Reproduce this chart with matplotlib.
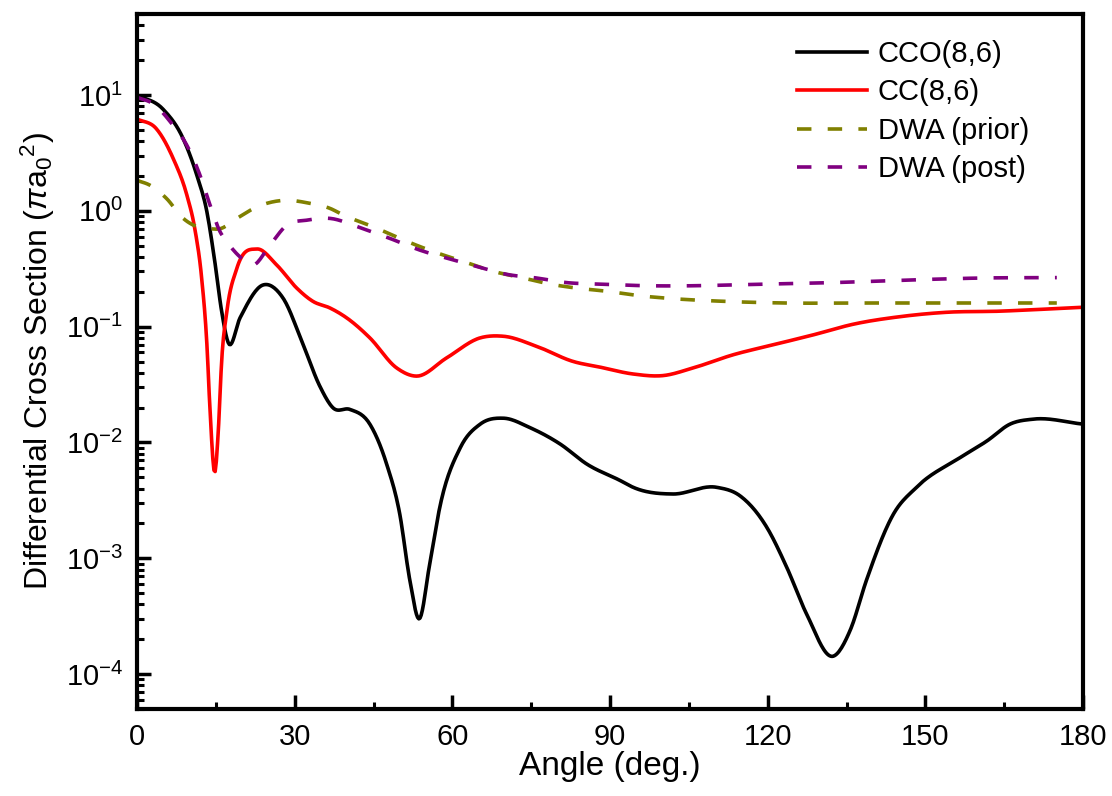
import matplotlib
matplotlib.use('Agg')
import matplotlib.pyplot as plt
import numpy as np
from matplotlib.ticker import MultipleLocator, NullFormatter, FixedLocator

plt.rcParams['font.family'] = 'Liberation Sans'
plt.rcParams['mathtext.fontset'] = 'custom'
plt.rcParams['mathtext.rm'] = 'Liberation Sans'
plt.rcParams['mathtext.it'] = 'Liberation Sans:italic'

# CCO(8,6)
cco_x = [0, 4.9, 8.8, 11.4, 13.3, 14.8, 16.1, 17.4, 19.6, 24.0, 27.8, 31.6, 34.8, 37.3,
         40.5, 44.3, 47.5, 50.0, 51.9, 53.7, 55.7, 57.6, 61.5, 65.3, 69.7, 74.8, 80.5,
         85.6, 91.9, 94.4, 102.0, 110.3, 114.7, 119.8, 123.6, 127.4, 132.5, 135.7, 138.8,
         143.9, 148.3, 156.6, 161.7, 166.1, 170.5, 180]
cco_y = [10.0, 7.58, 4.18, 2.02, 0.98, 0.365, 0.136, 0.072, 0.119, 0.229, 0.176, 0.070,
         0.0305, 0.0199, 0.0193, 0.0144, 0.0065, 0.0024, 6.5e-4, 3.0e-4, 9e-4, 0.00275,
         0.009, 0.0144, 0.0162, 0.0134, 0.0097, 0.0065, 0.0047, 0.0041, 0.00359, 0.0041,
         0.00347, 0.00186, 8.4e-4, 3.3e-4, 1.43e-4, 2.4e-4, 6.5e-4, 0.0024, 0.0041,
         0.0074, 0.0103, 0.0144, 0.0159, 0.0144]

# CC(8,6)
cc_x = [0, 3.7, 6.9, 9.5, 11.0, 12.3, 13.3, 13.9, 14.8, 15.5, 16.1, 17.1, 19.0, 22.8,
        26.6, 30.4, 33.5, 36.7, 39.9, 44.3, 49.4, 53.2, 58.9, 65.3, 69.7, 76.0, 83.0,
        88.1, 94.4, 100.1, 105.8, 113.5, 121.1, 128.7, 136.3, 145.2, 154.0, 164.2,
        170.5, 180]
cc_y = [6.2, 5.1, 2.82, 1.36, 0.70, 0.263, 0.070, 0.0187, 0.0055, 0.0134, 0.050, 0.136,
        0.319, 0.468, 0.34, 0.215, 0.165, 0.145, 0.119, 0.080, 0.044, 0.0374, 0.0537,
        0.080, 0.0826, 0.0677, 0.050, 0.0447, 0.039, 0.0378, 0.044, 0.0573, 0.0698,
        0.085, 0.105, 0.122, 0.133, 0.136, 0.140, 0.147]

# DWA (prior)
prior_x = [0, 2.5, 5.6, 8.8, 11.4, 13.9, 15.8, 19.0, 22.8, 27.8, 32.9, 36.7, 39.3, 44.9,
           50.7, 56.4, 62.1, 67.8, 73.5, 78.6, 83.7, 89.4, 95.1, 100.8, 112.2, 123.0,
           138.8, 175]
prior_y = [1.83, 1.66, 1.28, 0.86, 0.73, 0.70, 0.70, 0.86, 1.08, 1.23, 1.16, 1.05, 0.917,
           0.73, 0.56, 0.444, 0.365, 0.30, 0.263, 0.233, 0.215, 0.202, 0.186, 0.176,
           0.165, 0.16, 0.16, 0.16]

# DWA (post)
post_x = [0, 3.1, 6.9, 9.5, 12.0, 13.9, 15.8, 17.1, 19.6, 22.1, 25.3, 28.5, 32.3, 36.7,
          42.4, 48.1, 53.8, 59.5, 65.3, 70.3, 76.0, 81.7, 88.1, 98.2, 103.9, 119.8,
          132.5, 148.3, 161.0, 175]
post_y = [9.55, 8.37, 5.44, 3.67, 2.02, 1.12, 0.66, 0.54, 0.40, 0.34, 0.506, 0.752, 0.83,
          0.86, 0.715, 0.578, 0.458, 0.384, 0.325, 0.283, 0.263, 0.24, 0.233, 0.225,
          0.225, 0.233, 0.24, 0.254, 0.263, 0.265]

y_major = [1e-4, 1e-3, 1e-2, 1e-1, 1e0, 1e1]


def smooth(x, y, n=800):
    # cubic Hermite through the read points, in log space
    x = np.asarray(x, float)
    ly = np.log10(np.asarray(y, float))
    d = np.gradient(ly, x)
    xs = np.linspace(x[0], x[-1], n)
    idx = np.clip(np.searchsorted(x, xs) - 1, 0, len(x) - 2)
    h = x[idx + 1] - x[idx]
    t = (xs - x[idx]) / h
    h00 = 2 * t**3 - 3 * t**2 + 1
    h10 = t**3 - 2 * t**2 + t
    h01 = -2 * t**3 + 3 * t**2
    h11 = t**3 - t**2
    out = h00 * ly[idx] + h10 * h * d[idx] + h01 * ly[idx + 1] + h11 * h * d[idx + 1]
    return xs, 10 ** out


fig = plt.figure(figsize=(11.12, 7.96), dpi=100)
ax = fig.add_axes([0.1232, 0.1093, 0.8508, 0.8731])

lw = 2.6
ax.plot(*smooth(cco_x, cco_y), color='black', lw=lw, label='CCO(8,6)')
ax.plot(*smooth(cc_x, cc_y), color='#ff0000', lw=lw, label='CC(8,6)')
ax.plot(*smooth(prior_x, prior_y), color='#808000', lw=lw, dashes=(4, 4.5),
        label='DWA (prior)')
ax.plot(*smooth(post_x, post_y), color='#800080', lw=lw, dashes=(4, 4.5),
        label='DWA (post)')

ax.set_yscale('log')
ax.set_xlim(0, 180)
ax.set_ylim(5e-5, 50)
ax.xaxis.set_major_locator(MultipleLocator(30))
ax.xaxis.set_minor_locator(MultipleLocator(15))
ax.set_yticks(y_major)
minors = [m * 10.0 ** e for e in range(-5, 2) for m in range(2, 10)]
minors = [v for v in minors if 5e-5 <= v <= 50]
ax.yaxis.set_minor_locator(FixedLocator(minors))
ax.yaxis.set_minor_formatter(NullFormatter())
ax.set_ylim(5e-5, 50)

for s in ax.spines.values():
    s.set_linewidth(3)
ax.tick_params(which='both', direction='in', top=False, right=False, labelsize=21, pad=10)
ax.tick_params(which='major', length=10, width=2.5)
ax.tick_params(which='minor', length=5, width=2.2)

ax.set_xlabel('Angle (deg.)', fontsize=24, labelpad=0)
ax.set_ylabel(r'Differential Cross Section ($\pi$a$_0$$^2$)', fontsize=23, labelpad=6)

ax.legend(loc='upper left', bbox_to_anchor=(0.698, 0.963), frameon=False, fontsize=21,
          handlelength=2.4, handletextpad=0.35, labelspacing=0.36, borderpad=0,
          borderaxespad=0)

fig.savefig('out.png', dpi=100)
